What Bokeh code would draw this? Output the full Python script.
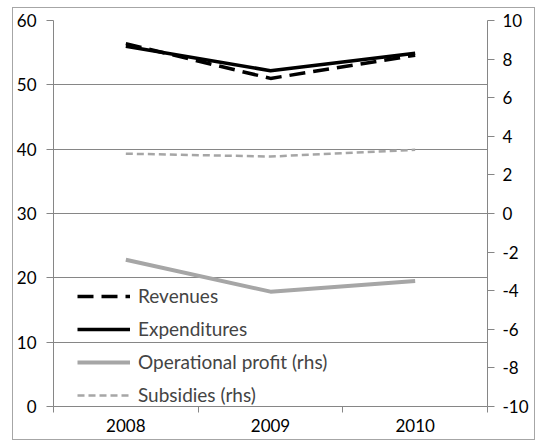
from bokeh.plotting import figure
from bokeh.models import Range1d, LinearAxis, FixedTicker, Legend, LegendItem, InlineStyleSheet
from bokeh.embed import file_html
from bokeh.resources import INLINE

years = ["2008", "2009", "2010"]
revenues = [56.4, 51.0, 54.6]
expenditures = [56.0, 52.2, 54.9]
op_profit_rhs = [-2.4, -4.05, -3.5]
subsidies_rhs = [3.1, 2.95, 3.3]

left_ticks = [0, 10, 20, 30, 40, 50, 60]
right_ticks = [-10, -8, -6, -4, -2, 0, 2, 4, 6, 8, 10]

xs = [i + 0.5 for i in range(len(years))]
FONT = "Lato"
GRID = "#868686"

p = figure(width=523, height=433, output_backend="svg", toolbar_location=None,
           x_range=Range1d(0, len(years)), y_range=Range1d(0, 60),
           min_border_left=40, min_border_right=49, min_border_top=12, min_border_bottom=35)
p.margin = (7, 0, 0, 12)
p.stylesheets = [InlineStyleSheet(css=":host { border: 1px solid #A6A6A6; }")]
p.outline_line_color = None
p.extra_y_ranges = {"rhs": Range1d(-10, 10)}

# x axis
xa = p.xaxis[0]
xa.ticker = FixedTicker(ticks=xs, minor_ticks=list(range(len(years) + 1)))
xa.major_label_overrides = {x: y for x, y in zip(xs, years)}
xa.major_tick_out = 0
xa.major_tick_in = 0
xa.minor_tick_out = 6
xa.minor_tick_in = 0
xa.minor_tick_line_color = GRID
xa.axis_line_color = GRID
xa.major_label_standoff = 6

ya = p.yaxis[0]
ya.ticker = FixedTicker(ticks=left_ticks)
ya.major_tick_out = 7
ya.major_tick_in = 0
ya.minor_tick_out = 0
ya.minor_tick_in = 0
ya.axis_line_color = GRID
ya.major_tick_line_color = GRID
ya.major_label_standoff = 10

ra = LinearAxis(y_range_name="rhs", ticker=FixedTicker(ticks=right_ticks))
ra.major_label_overrides = {t: str(t) for t in right_ticks}
ra.major_tick_out = 7
ra.major_tick_in = 0
ra.minor_tick_out = 0
ra.minor_tick_in = 0
ra.axis_line_color = GRID
ra.major_tick_line_color = GRID
ra.major_label_standoff = 8
p.add_layout(ra, "right")

for ax in [xa, ya, ra]:
    ax.major_label_text_font = FONT
    ax.major_label_text_font_size = "17px"
    ax.major_label_text_color = "#000000"

p.xgrid.visible = False
p.ygrid.ticker = FixedTicker(ticks=left_ticks)
p.ygrid.grid_line_color = GRID
p.ygrid.grid_line_width = 1

r1 = p.line(xs, revenues, line_color="black", line_width=3.5, line_dash="16 8")
r2 = p.line(xs, expenditures, line_color="black", line_width=3.5)
r3 = p.line(xs, op_profit_rhs, line_color="#A6A6A6", line_width=4, y_range_name="rhs")
r4 = p.line(xs, subsidies_rhs, line_color="#A6A6A6", line_width=2.5, line_dash="7 4", y_range_name="rhs")

legend = Legend(items=[
    LegendItem(label="Revenues", renderers=[r1]),
    LegendItem(label="Expenditures", renderers=[r2]),
    LegendItem(label="Operational profit (rhs)", renderers=[r3]),
    LegendItem(label="Subsidies (rhs)", renderers=[r4]),
], location=(24, 0))
legend.background_fill_alpha = 0
legend.border_line_color = None
legend.padding = 0
legend.spacing = 10
legend.glyph_width = 53
legend.glyph_height = 22
legend.label_height = 22
legend.label_standoff = 8
legend.label_text_font = FONT
legend.label_text_font_size = "19px"
legend.margin = 0
p.add_layout(legend, "center")

open("out.html", "w").write(file_html(p, INLINE))
